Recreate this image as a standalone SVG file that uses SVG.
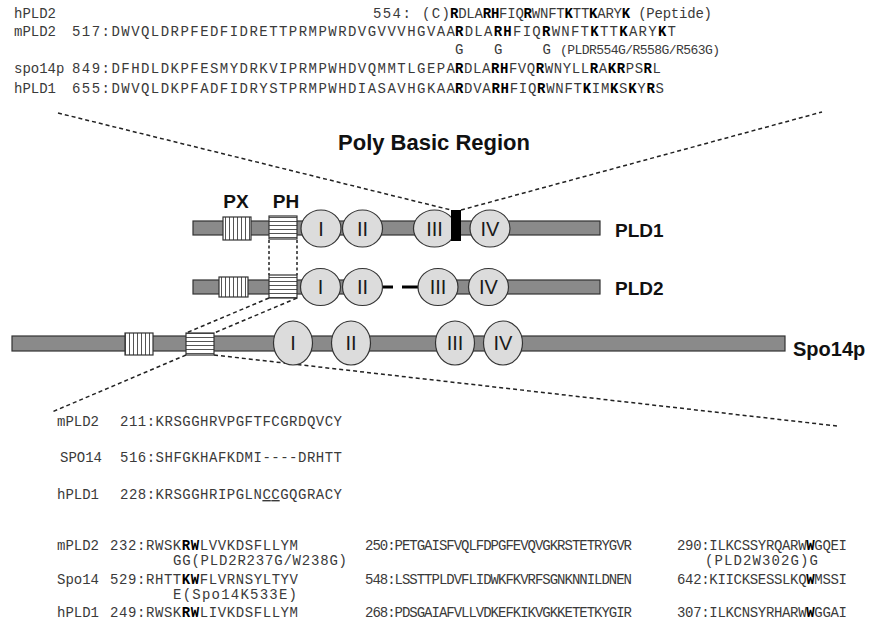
<svg xmlns="http://www.w3.org/2000/svg" width="886" height="620" viewBox="0 0 886 620">
<defs>
<style>
.seq{font-family:"Liberation Mono","DejaVu Sans Mono",monospace;font-size:14px;fill:#3a3a3a;white-space:pre}
.sm{font-size:13px}
.b{font-weight:bold;fill:#000}
.lab{font-family:"Liberation Sans",Arial,sans-serif;font-weight:bold;fill:#111}
.dom{font-family:"Liberation Sans",Arial,sans-serif;font-size:20px;fill:#1a1a1a;text-anchor:middle}
.bar{fill:#8a8a8a;stroke:#333;stroke-width:1.2}
.ell{fill:#dcdcdc;stroke:#333;stroke-width:1.2}
.dash{fill:none;stroke:#222;stroke-width:1.5;stroke-dasharray:4 3}
.dot{fill:none;stroke:#222;stroke-width:1.5;stroke-dasharray:3 2.5}
</style>
<pattern id="vs" width="4" height="40" patternUnits="userSpaceOnUse">
<rect width="4" height="40" fill="#fff"/>
<line x1="1.5" y1="0" x2="1.5" y2="40" stroke="#555" stroke-width="1"/>
</pattern>
<pattern id="hs" width="40" height="4" patternUnits="userSpaceOnUse">
<rect width="40" height="4" fill="#fff"/>
<line x1="0" y1="1.5" x2="40" y2="1.5" stroke="#555" stroke-width="1"/>
</pattern>
</defs>
<rect width="886" height="620" fill="#fff"/>

<g id="top-sequences">
<text class="seq" x="14" y="18">hPLD2</text>
<text class="seq" x="373" y="18" textLength="77" xml:space="preserve">554: (C)</text>
<text class="seq" x="450" y="18" textLength="262" xml:space="preserve"><tspan class="b">R</tspan>DLA<tspan class="b">RH</tspan>FIQ<tspan class="b">R</tspan>WNFT<tspan class="b">K</tspan>TT<tspan class="b">K</tspan>ARY<tspan class="b">K</tspan> (Peptide)</text>

<text class="seq" x="14" y="36">mPLD2</text>
<text class="seq" x="72" y="36" textLength="383">517:DWVQLDRPFEDFIDRETTPRMPWRDVGVVVHGVAA</text>
<text class="seq" x="455" y="36" textLength="221"><tspan class="b">R</tspan>DLA<tspan class="b">RH</tspan>FIQ<tspan class="b">R</tspan>WNFT<tspan class="b">K</tspan>TT<tspan class="b">K</tspan>ARY<tspan class="b">K</tspan>T</text>

<text class="seq" x="455" y="54" textLength="96" xml:space="preserve">G   G    G</text>
<text class="seq sm" x="560" y="54" textLength="160">(PLDR554G/R558G/R563G)</text>

<text class="seq" x="14" y="73">spo14p</text>
<text class="seq" x="72" y="73" textLength="383">849:DFHDLDKPFESMYDRKVIPRMPWHDVQMMTLGEPA</text>
<text class="seq" x="455" y="73" textLength="206"><tspan class="b">R</tspan>DLA<tspan class="b">RH</tspan>FVQ<tspan class="b">R</tspan>WNYLL<tspan class="b">R</tspan>A<tspan class="b">KR</tspan>PS<tspan class="b">R</tspan>L</text>

<text class="seq" x="14" y="93">hPLD1</text>
<text class="seq" x="72" y="93" textLength="383">655:DWVQLDKPFADFIDRYSTPRMPWHDIASAVHGKAA</text>
<text class="seq" x="455" y="93" textLength="209"><tspan class="b">R</tspan>DVA<tspan class="b">RH</tspan>FIQ<tspan class="b">R</tspan>WNFT<tspan class="b">K</tspan>IM<tspan class="b">K</tspan>S<tspan class="b">K</tspan>Y<tspan class="b">R</tspan>S</text>
</g>

<text id="title" class="lab" x="434" y="150" font-size="22" text-anchor="middle">Poly Basic Region</text>

<g id="connectors">
<line class="dash" x1="58" y1="113" x2="451" y2="210"/>
<line class="dash" x1="461" y1="210" x2="822" y2="112"/>
<line class="dot" x1="269" y1="240" x2="269" y2="275"/>
<line class="dot" x1="297" y1="240" x2="297" y2="275"/>
<line class="dash" x1="269" y1="298" x2="186" y2="333"/>
<line class="dash" x1="297" y1="298" x2="214" y2="333"/>
<line class="dash" x1="186" y1="355" x2="52" y2="412"/>
<line class="dash" x1="214" y1="355" x2="837" y2="426"/>
</g>

<g id="PLD1">
<rect class="bar" x="193" y="221" width="407" height="14"/>
<rect x="223" y="217" width="28" height="23" fill="url(#vs)" stroke="#333" stroke-width="1.2"/>
<rect x="269" y="216" width="28" height="23" fill="url(#hs)" stroke="#333" stroke-width="1.2"/>
<ellipse class="ell" cx="321" cy="228.5" rx="20" ry="18.5"/>
<ellipse class="ell" cx="362.5" cy="228.5" rx="20" ry="18.5"/>
<ellipse class="ell" cx="434.5" cy="228.5" rx="21" ry="18.5"/>
<rect x="451" y="210" width="10" height="31" fill="#000"/>
<ellipse class="ell" cx="490" cy="228.5" rx="20" ry="18.5"/>
<text class="dom" x="321" y="235.5">I</text>
<text class="dom" x="362.5" y="235.5">II</text>
<text class="dom" x="434.5" y="235.5">III</text>
<text class="dom" x="490" y="235.5">IV</text>
<text class="lab" x="236" y="208" font-size="19" text-anchor="middle">PX</text>
<text class="lab" x="286" y="208" font-size="19" text-anchor="middle">PH</text>
<text class="lab" x="615" y="237" font-size="19">PLD1</text>
</g>

<g id="PLD2">
<rect class="bar" x="193" y="280" width="180" height="14"/>
<rect class="bar" x="430" y="280" width="170" height="14"/>
<line x1="383" y1="287" x2="393" y2="287" stroke="#000" stroke-width="3"/>
<line x1="402" y1="287" x2="419" y2="287" stroke="#000" stroke-width="3"/>
<rect x="219" y="277" width="29" height="20" fill="url(#vs)" stroke="#333" stroke-width="1.2"/>
<rect x="269" y="275" width="28" height="23" fill="url(#hs)" stroke="#333" stroke-width="1.2"/>
<ellipse class="ell" cx="320.5" cy="287" rx="20" ry="18.5"/>
<ellipse class="ell" cx="362.5" cy="287" rx="20" ry="18.5"/>
<ellipse class="ell" cx="438" cy="287" rx="20" ry="18.5"/>
<ellipse class="ell" cx="488.5" cy="287" rx="20" ry="18.5"/>
<text class="dom" x="320.5" y="294">I</text>
<text class="dom" x="362.5" y="294">II</text>
<text class="dom" x="438" y="294">III</text>
<text class="dom" x="488.5" y="294">IV</text>
<text class="lab" x="615" y="295" font-size="19">PLD2</text>
</g>

<g id="Spo14p">
<rect class="bar" x="12" y="336" width="773" height="15"/>
<rect x="125" y="333" width="28" height="22" fill="url(#vs)" stroke="#333" stroke-width="1.2"/>
<rect x="186" y="333" width="28" height="22" fill="url(#hs)" stroke="#333" stroke-width="1.2"/>
<ellipse class="ell" cx="293" cy="343" rx="19.5" ry="22"/>
<ellipse class="ell" cx="351" cy="343" rx="19.5" ry="22"/>
<ellipse class="ell" cx="455" cy="343" rx="19.5" ry="22"/>
<ellipse class="ell" cx="503" cy="343" rx="19.5" ry="22"/>
<text class="dom" x="293" y="350">I</text>
<text class="dom" x="351" y="350">II</text>
<text class="dom" x="455" y="350">III</text>
<text class="dom" x="503" y="350">IV</text>
<text class="lab" x="793" y="356" font-size="20">Spo14p</text>
</g>

<g id="bottom-sequences">
<text class="seq" x="57" y="426">mPLD2</text>
<text class="seq" x="120" y="426" textLength="222">211:KRSGGHRVPGFTFCGRDQVCY</text>
<text class="seq" x="60" y="462">SPO14</text>
<text class="seq" x="120" y="462" textLength="222">516:SHFGKHAFKDMI----DRHTT</text>
<text class="seq" x="57" y="499">hPLD1</text>
<text class="seq" x="120" y="499" textLength="222">228:KRSGGHRIPGLN<tspan text-decoration="underline">CC</tspan>GQGRACY</text>

<text class="seq" x="57" y="550">mPLD2</text>
<text class="seq" x="110" y="550" textLength="188">232:RWSK<tspan class="b">RW</tspan>LVVKDSFLLYM</text>
<text class="seq" x="365" y="550" textLength="267">250:PETGAISFVQLFDPGFEVQVGKRSTETRYGVR</text>
<text class="seq" x="677" y="550" textLength="170">290:ILKCSSYRQARW<tspan class="b">W</tspan>GQEI</text>
<text class="seq" x="173" y="565" textLength="174">GG(PLD2R237G/W238G)</text>
<text class="seq" x="705" y="565" textLength="113">(PLD2W302G)G</text>

<text class="seq" x="57" y="584">Spo14</text>
<text class="seq" x="110" y="584" textLength="188">529:RHTT<tspan class="b">KW</tspan>FLVRNSYLTYV</text>
<text class="seq" x="365" y="584" textLength="267">548:LSSTTPLDVFLIDWKFKVRFSGNKNNILDNEN</text>
<text class="seq" x="677" y="584" textLength="170">642:KIICKSESSLKQ<tspan class="b">W</tspan>MSSI</text>
<text class="seq" x="173" y="599" textLength="124">E(Spo14K533E)</text>

<text class="seq" x="57" y="617">hPLD1</text>
<text class="seq" x="110" y="617" textLength="188">249:RWSK<tspan class="b">RW</tspan>LIVKDSFLLYM</text>
<text class="seq" x="365" y="617" textLength="267">268:PDSGAIAFVLLVDKEFKIKVGKKETETKYGIR</text>
<text class="seq" x="677" y="617" textLength="170">307:ILKCNSYRHARW<tspan class="b">W</tspan>GGAI</text>
</g>
</svg>
